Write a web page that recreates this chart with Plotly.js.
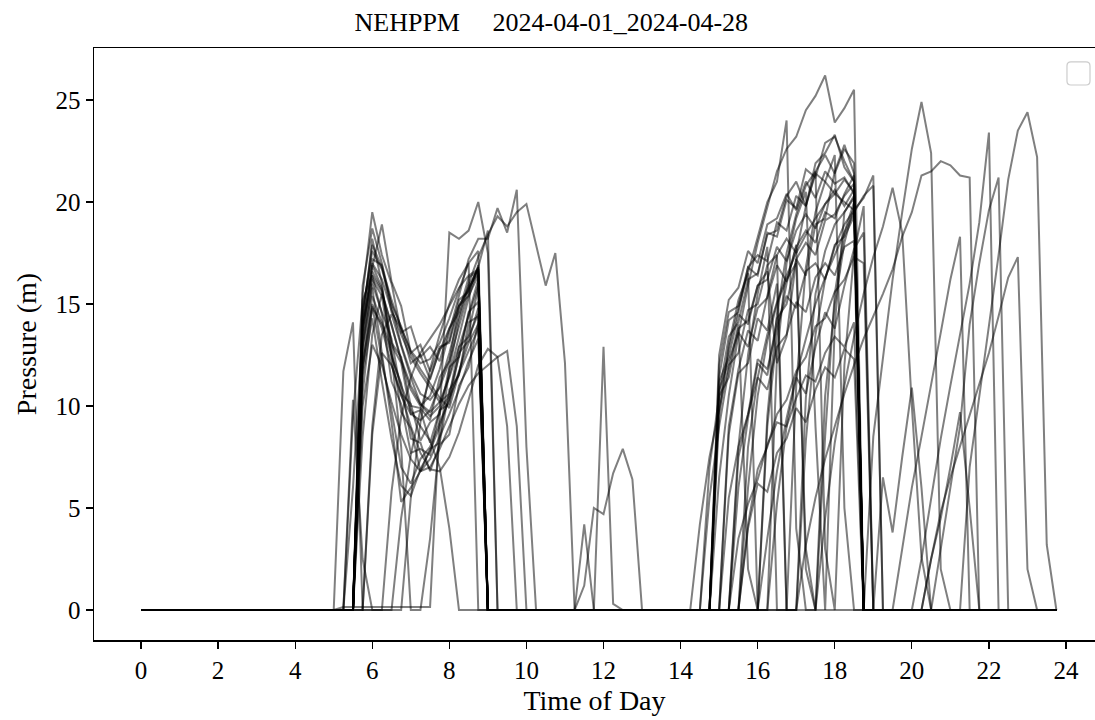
<!DOCTYPE html>
<html>
<head>
<meta charset="utf-8">
<script src="https://cdn.plot.ly/plotly-3.0.1.min.js"></script>
<style>
  html, body { margin: 0; padding: 0; background: #ffffff; }
  #chart { width: 1095px; height: 720px; }
</style>
</head>
<body>
<div id="chart"></div>
<script>
// Daily pressure traces, NEHPPM, 15-minute readings (hour of day on x).
// Each day lists its pumping runs as [start hour, readings every 15 min];
// readings outside a run are zero.
const dayLabels = [
  "2024-04-01", "2024-04-02", "2024-04-03", "2024-04-04", "2024-04-05", "2024-04-06", "2024-04-07",
  "2024-04-08", "2024-04-09", "2024-04-10", "2024-04-11", "2024-04-12", "2024-04-13", "2024-04-14",
  "2024-04-15", "2024-04-16", "2024-04-17", "2024-04-18", "2024-04-19", "2024-04-20", "2024-04-21",
  "2024-04-22", "2024-04-23", "2024-04-24", "2024-04-25", "2024-04-26", "2024-04-27", "2024-04-28"
];

const xTicks = [0, 2, 4, 6, 8, 10, 12, 14, 16, 18, 20, 22, 24];
const yTicks = [0, 5, 10, 15, 20, 25];

const day01 = [[5.5, [0, 14.8, 17.2, 16.9, 14.6, 13.8, 12.1, 12.5, 11.3, 12.8, 13.2, 15.2, 15.6, 16.9, 0]],
               [14.75, [0, 11.2, 12.4, 14.5, 14.0, 15.9, 16.2, 17.8, 17.1, 18.6, 19.4, 18.7, 19.9, 20.6, 19.8, 20.6, 0]]];
const day02 = [[5.5, [0, 15.5, 19.5, 17.4, 16.0, 13.6, 13.9, 12.4, 12.9, 12.2, 13.8, 14.6, 16.3, 16.6, 0]],
               [14.75, [0, 12.5, 15.2, 15.8, 17.6, 17.0, 18.9, 19.2, 20.4, 19.6, 21.0, 20.2, 21.5, 20.9, 21.2, 20.4, 0]]];
const day03 = [[5.5, [0, 13.2, 16.8, 18.9, 16.1, 14.9, 12.6, 13.0, 11.7, 12.9, 13.1, 14.9, 15.4, 16.4, 0]],
               [15.0, [0, 5.5, 8.0, 9.6, 11.4, 10.8, 12.9, 13.5, 15.1, 14.6, 16.3, 17.0, 16.4, 17.8, 18.1, 0]]];
const day04 = [[5.5, [0, 12.5, 16.0, 14.6, 13.3, 10.6, 10.1, 8.3, 9.2, 9.6, 11.9, 12.4, 14.6, 15.1, 0]],
               [15.0, [0, 8.6, 11.6, 12.1, 14.3, 13.7, 16.0, 0, 0, 10.4, 15.5, 17.6, 18.9, 19.5, 20.3, 0]]];
const day05 = [[5.5, [0, 14.1, 16.6, 15.7, 13.0, 12.1, 9.6, 9.8, 8.2, 9.8, 10.1, 12.6, 13.2, 14.8, 0]],
               [14.75, [0, 11.4, 14.2, 14.6, 16.8, 17.4, 17.1, 19.0, 18.6, 20.3, 19.8, 21.4, 21.0, 20.4, 21.1, 20.5, 0]]];
const day06 = [[5.5, [0, 11.8, 15.4, 14.1, 12.8, 9.7, 8.9, 6.8, 7.9, 8.2, 10.8, 11.5, 14.1, 14.4, 0]],
               [15.5, [0, 4.2, 6.9, 8.0, 9.6, 10.3, 11.7, 12.4, 13.9, 14.3, 15.6, 16.2, 17.3, 17.0, 0]]];
const day07 = [[5.5, [0, 13.6, 17.0, 16.2, 14.7, 13.5, 12.4, 11.6, 10.9, 10.2, 10.6, 12.4, 14.5, 16.2, 0]],
               [14.75, [0, 10.6, 13.4, 14.1, 16.2, 16.5, 18.4, 18.6, 20.3, 21.0, 19.8, 21.5, 22.3, 21.4, 22.6, 21.9, 0]]];
const day08 = [[5.25, [0, 9.5, 15.2, 16.4, 14.5, 11.2, 10.1, 7.7, 7.9, 7.6, 9.8, 10.5, 12.9, 13.4, 14.5, 0]],
               [15.25, [0, 7.5, 9.6, 12.3, 11.8, 13.9, 15.4, 14.8, 16.6, 17.0, 16.2, 17.9, 18.3, 19.3, 0]]];
const day09 = [[5.5, [0, 10.6, 14.9, 12.3, 9.8, 7.0, 6.2, 7.4, 8.0, 9.2, 10.3, 11.7, 13.1, 14.0, 0]],
               [14.5, [0, 7.0, 10.5, 11.4, 13.8, 14.2, 15.9, 16.6, 12.1, 13.4, 17.2, 18.0, 17.4, 19.1, 19.4, 20.3, 20.9, 0]]];
const day10 = [[5.5, [0, 12.9, 15.8, 12.6, 9.2, 5.3, 6.0, 6.8, 7.4, 8.5, 9.6, 10.8, 12.2, 13.3, 0]],
               [14.75, [0, 9.5, 13.0, 15.2, 16.5, 0, 0, 12.4, 17.0, 19.2, 20.5, 9.0, 0, 14.0, 19.5, 20.2, 0]]];
const day11 = [[5.5, [0, 11.5, 14.3, 11.2, 8.4, 6.1, 5.6, 6.9, 7.8, 9.0, 10.4, 11.6, 12.7, 13.8, 0]],
               [15.25, [0, 3.5, 5.2, 6.4, 8.1, 9.2, 9.0, 10.4, 11.5, 11.2, 12.6, 13.4, 12.9, 14.1, 0]]];
const day12 = [[5.5, [0, 13.9, 16.2, 15.4, 12.4, 11.1, 8.4, 8.2, 6.8, 8.1, 8.6, 11.0, 11.9, 14.1, 0]],
               [14.25, [0, 4.2, 7.5, 9.8, 12.0, 12.6, 14.7, 15.0, 16.9, 17.4, 0, 0, 8.3, 13.5, 16.2, 17.8, 18.9, 19.6, 0]]];
const day13 = [[5.5, [0, 14.6, 17.6, 16.7, 15.0, 13.9, 12.6, 11.8, 11.1, 10.4, 9.9, 11.6, 13.6, 15.8, 0]],
               [14.75, [0, 10.0, 12.8, 14.8, 16.5, 18.2, 20.0, 21.0, 24.0, 4.0, 0, 0, 8.5, 15.5, 18.5, 20.0, 0]]];
const day14 = [[5.25, [0, 6.0, 13.8, 16.9, 15.8, 13.1, 12.4, 10.0, 9.9, 9.3, 11.4, 12.2, 14.9, 15.7, 16.8, 0]],
               [14.75, [0, 12.0, 14.6, 14.9, 16.8, 16.4, 18.5, 18.3, 20.1, 19.7, 21.6, 21.2, 22.9, 23.2, 22.0, 21.0, 0]]];
const day15 = [[5.0, [0, 11.7, 14.1, 0]],
               [6.75, [0, 5.5, 9.2, 11.8, 13.5, 15.0, 16.2, 17.0, 0]],
               [14.75, [0, 6.5, 10.5, 13.5, 15.9, 18.0, 19.7, 21.5, 22.6, 23.2, 24.5, 25.2, 26.2, 23.9, 24.6, 25.5, 0]]];
const day16 = [[5.25, [0, 10.3, 2.5, 0]],
               [6.5, [0, 4.5, 7.6, 9.8, 11.4, 12.7, 13.8, 14.9, 15.8, 16.5, 0]],
               [15.5, [0, 8.0, 11.4, 13.5, 15.1, 16.4, 17.5, 18.4, 19.2, 19.9, 20.4, 20.0, 19.6, 20.2, 21.3, 0]]];
const day17 = [[5.0, [0, 0.15, 0.15, 0.15, 0.15, 0.15, 0.15, 0.15, 0.15, 0.15, 0.15, 9.5, 18.5, 18.2, 18.6, 20.0, 17.5, 0]],
               [16.0, [0, 3.5, 6.8, 9.4, 11.5, 13.3, 15.0, 16.3, 17.4, 18.5, 19.5, 20.3, 20.8, 0]]];
const day18 = [[5.5, [0, 8.5, 13.5, 15.5, 14.0, 12.2, 10.8, 10.0, 10.5, 11.8, 13.6, 15.5, 17.2, 18.2, 18.2, 19.7, 18.5, 20.6, 8.0, 0]],
               [15.5, [0, 6.0, 10.5, 13.2, 15.0, 16.2, 17.0, 3.0, 0]],
               [18.75, [0, 8.5, 12.3, 16.2, 19.5, 22.6, 24.9, 22.4, 2.0, 0]]];
const day19 = [[5.5, [0, 12.0, 15.0, 13.8, 12.0, 10.5, 9.6, 9.3, 9.8, 11.0, 12.6, 14.4, 16.0, 17.3, 18.4, 19.3, 18.8, 19.5, 19.9, 17.9, 15.9, 17.5, 12.1, 0]],
               [17.0, [0, 3.2, 5.5, 7.4, 9.0, 10.6, 12.0, 13.3, 14.4, 15.5, 16.7, 18.3, 19.5, 21.3, 21.5, 22.0, 21.8, 21.3, 21.2, 0]]];
const day20 = [[5.5, [0, 10.0, 13.0, 12.0, 10.2, 8.6, 7.4, 6.8, 7.0, 7.9, 9.0, 10.1, 11.0, 11.6, 12.0, 12.4, 12.7, 9.0, 0]],
               [17.5, [0, 4.5, 8.2, 11.0, 13.4, 15.5, 17.3, 18.8, 20.7, 18.5, 10.0, 2.6, 0]]];
const day21 = [[5.75, [0, 9.0, 13.5, 14.5, 13.0, 11.4, 10.1, 9.5, 10.0, 11.5, 13.4, 15.3, 16.8, 18.6, 0]],
               [15.25, [0, 8.0, 12.5, 15.5, 17.8, 0, 0, 11.0, 16.8, 19.5, 21.0, 22.3, 5.0, 0]],
               [20.0, [0, 2.5, 5.5, 8.4, 11.0, 13.5, 16.0, 19.0, 23.4, 0]]];
const day22 = [[5.5, [0, 14.0, 18.2, 16.0, 12.5, 8.0, 0, 0, 3.5, 8.4, 11.8, 14.2, 15.9, 16.7, 0]],
               [14.5, [0, 5.5, 9.0, 11.8, 14.0, 2.0, 0, 9.5, 14.5, 17.5, 19.4, 20.8, 21.5, 3.0, 0, 12.0, 17.5, 19.8, 0]],
               [20.5, [0, 3.0, 6.0, 9.0, 14.0, 17.0, 19.6, 21.2, 0]]];
const day23 = [[6.25, [0, 5.8, 9.5, 11.4, 12.6, 13.3, 14.0, 14.9, 15.8, 16.4, 16.7, 0]],
               [15.0, [0, 9.0, 11.8, 13.7, 13.2, 15.4, 17.4, 18.2, 17.5, 19.8, 21.9, 22.4, 23.3, 21.7, 21.0, 0]],
               [21.25, [0, 7.0, 10.5, 13.8, 17.4, 21.1, 23.5, 24.4, 22.2, 3.2, 0]]];
const day24 = [[5.5, [0, 12.0, 14.8, 14.0, 12.5, 11.0, 9.8, 9.0, 8.3, 7.0, 4.0, 0]],
               [16.0, [0, 9.0, 13.5, 16.0, 17.9, 2.0, 0, 10.5, 15.0, 18.0, 19.8, 0]],
               [20.25, [0, 2.5, 4.8, 6.5, 8.0, 9.5, 11.0, 12.6, 14.4, 16.3, 17.3, 2.0, 0]]];
const day25 = [[5.5, [0, 13.0, 16.4, 15.6, 13.9, 12.3, 11.0, 10.1, 9.7, 10.2, 11.4, 12.9, 14.5, 15.9, 0]],
               [11.25, [0, 4.2, 0]],
               [15.5, [0, 4.0, 6.2, 5.8, 7.7, 8.4, 9.9, 9.2, 10.8, 11.9, 11.4, 12.8, 12.3, 0]],
               [19.5, [0, 3.0, 6.0, 8.5, 11.0, 13.6, 16.2, 18.3, 0]]];
const day26 = [[5.5, [0, 15.9, 18.7, 17.0, 14.9, 13.0, 11.6, 10.6, 10.3, 10.9, 12.2, 13.9, 15.6, 16.8, 0]],
               [11.25, [0, 1.2, 5.0, 4.7, 6.7, 7.9, 6.4, 0]],
               [14.75, [0, 10.8, 12.2, 13.6, 12.9, 14.8, 15.3, 16.9, 16.1, 17.8, 18.6, 18.0, 19.5, 19.2, 20.4, 21.3, 0]],
               [19.0, [0, 6.5, 3.8, 7.5, 10.9, 6.0, 0]]];
const day27 = [[5.75, [0, 8.6, 12.6, 12.0, 10.6, 9.0, 7.7, 6.9, 6.8, 7.5, 8.7, 10.3, 12.0, 12.8, 12.4, 9.0, 0]],
               [11.75, [0, 12.9, 0.3, 0]],
               [15.25, [0, 6.0, 9.4, 12.1, 11.5, 14.3, 15.0, 17.2, 16.4, 18.9, 19.2, 21.5, 22.8, 21.4, 0]],
               [20.25, [0, 2.5, 4.5, 7.0, 9.7, 5.0, 0]]];
const day28 = [[5.5, [0, 14.4, 17.9, 16.8, 15.2, 13.8, 12.7, 12.1, 12.3, 13.1, 14.3, 15.7, 17.0, 17.6, 0]],
               [16.25, [0, 5.2, 9.0, 11.4, 10.6, 12.9, 14.6, 13.8, 15.9, 17.7, 18.5, 0]]];

const dayRuns = [day01, day02, day03, day04, day05, day06, day07, day08, day09, day10,
                 day11, day12, day13, day14, day15, day16, day17, day18, day19, day20,
                 day21, day22, day23, day24, day25, day26, day27, day28];

// 96 quarter-hour sample times, 0.00 .. 23.75
const timeOfDay = Array.from({ length: 96 }, (_, k) => k / 4);

function dailySeries(runs) {
  const vals = timeOfDay.map(() => 0);
  runs.forEach(([start, readings]) => {
    const k0 = Math.round(start * 4);
    readings.forEach((r, i) => { if (k0 + i < vals.length) vals[k0 + i] = r; });
  });
  return vals;
}

const traces = dayRuns.map((runs, i) => ({
  type: "scatter",
  mode: "lines",
  name: dayLabels[i],
  x: timeOfDay,
  y: dailySeries(runs),
  line: { color: "rgba(0,0,0,0.5)", width: 2 },
  showlegend: false,
  hoverinfo: "skip"
}));

const serif = "Liberation Serif, Times New Roman, serif";
const nb = "\u00a0";

// empty legend frame in the upper-right corner (paper coordinates)
const lx0 = 0.9720, lx1 = 0.9950, ly0 = 0.9375, ly1 = 0.9764, rx = 0.004, ry = 0.0068;
const legendFrame = `M ${lx0 + rx} ${ly1} L ${lx1 - rx} ${ly1} Q ${lx1} ${ly1} ${lx1} ${ly1 - ry} ` +
  `L ${lx1} ${ly0 + ry} Q ${lx1} ${ly0} ${lx1 - rx} ${ly0} L ${lx0 + rx} ${ly0} ` +
  `Q ${lx0} ${ly0} ${lx0} ${ly0 + ry} L ${lx0} ${ly1 - ry} Q ${lx0} ${ly1} ${lx0 + rx} ${ly1} Z`;

const layout = {
  width: 1095,
  height: 720,
  margin: { l: 94, r: 0, t: 48, b: 80 },
  paper_bgcolor: "#ffffff",
  plot_bgcolor: "#ffffff",
  font: { family: serif, color: "#000000" },
  title: {
    text: "NEHPPM" + nb.repeat(5) + "2024-04-01_2024-04-28",
    font: { family: serif, size: 26, color: "#000000" },
    x: 0.5035, xanchor: "center",
    y: 0.969, yanchor: "middle"
  },
  xaxis: {
    range: [-1.2195, 24.752],
    tickvals: xTicks,
    ticktext: xTicks.map(String),
    ticks: "outside", ticklen: 7, tickwidth: 1.3, tickcolor: "#000000",
    showline: true, linewidth: 1.5, linecolor: "#000000", mirror: true,
    showgrid: false, zeroline: false,
    tickfont: { family: serif, size: 25, color: "#000000" },
    title: { text: "Time of Day", font: { family: serif, size: 28, color: "#000000" }, standoff: 8 }
  },
  yaxis: {
    range: [-1.4706, 27.549],
    tickvals: yTicks,
    ticktext: yTicks.map(String),
    ticks: "outside", ticklen: 7, tickwidth: 1.3, tickcolor: "#000000",
    showline: true, linewidth: 1.5, linecolor: "#000000", mirror: false,
    showgrid: false, zeroline: false,
    tickfont: { family: serif, size: 25, color: "#000000" },
    title: { text: "Pressure (m)", font: { family: serif, size: 28, color: "#000000" }, standoff: 10 }
  },
  shapes: [{
    type: "path", xref: "paper", yref: "paper", path: legendFrame,
    line: { color: "#cccccc", width: 1.2 }, fillcolor: "rgba(255,255,255,0.8)"
  }],
  hovermode: false
};

Plotly.newPlot("chart", traces, layout, { displayModeBar: false, staticPlot: true });
</script>
</body>
</html>
